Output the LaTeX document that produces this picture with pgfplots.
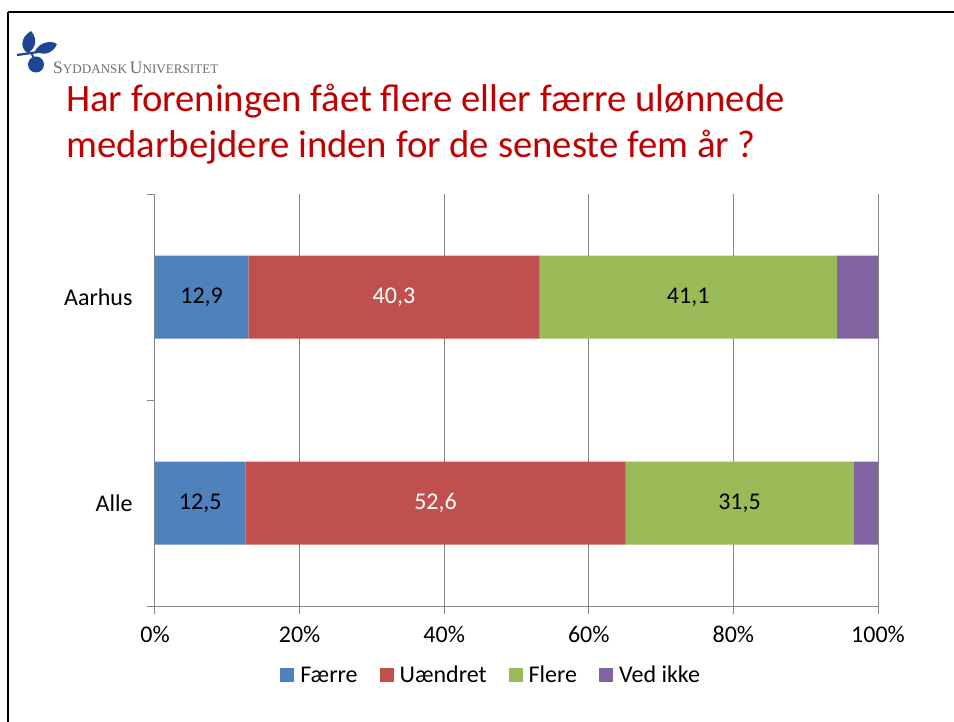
\documentclass[border=0pt]{standalone}
\usepackage{fontspec}
\setmainfont{Carlito}
\newfontfamily\logofont{Liberation Serif}
\usepackage{pgfplots}
\pgfplotsset{compat=1.18}

\definecolor{faerre}{RGB}{79,129,189}
\definecolor{uaendret}{RGB}{192,80,77}
\definecolor{flere}{RGB}{155,187,89}
\definecolor{vedikke}{RGB}{128,100,162}
\definecolor{axisgray}{RGB}{134,134,134}
\definecolor{titlered}{RGB}{192,0,0}
\definecolor{logoblue}{RGB}{30,70,146}
\definecolor{logogray}{RGB}{110,110,110}

\pgfplotsset{
  chartbox/.style={at={(155pt,-606pt)}, anchor=south west,
    scale only axis, width=723pt, height=412pt,
    xmin=0, xmax=100, ymin=-0.5, ymax=1.5},
}

\begin{document}
\begin{tikzpicture}
\useasboundingbox (0pt,0pt) rectangle (954pt,-722pt);
\fill[white] (0pt,0pt) rectangle (954pt,-722pt);

\begin{scope}[x=1pt,y=-1pt]
  % slide frame (top and left edges only visible)
  \draw[line width=2pt] (8,12) -- (956,12);
  \draw[line width=2pt] (8,12) -- (8,724);
  % logo
  \fill[logoblue] (31,31) .. controls (19,38) and (21,50) .. (28,53) .. controls (36,48) and (38,39) .. (31,31);
  \fill[logoblue] (35,51) .. controls (40,42) and (51,40) .. (57,44) .. controls (53,54) and (43,56) .. (35,51);
  \draw[logoblue,line width=2.2pt] (17,55) -- (45,51);
  \draw[logoblue,line width=1.8pt] (31,53) -- (34,58);
  \fill[logoblue] (36,64.5) circle (8);
  \node[anchor=base west,inner sep=0pt,text=logogray] at (53,74)
    {\logofont{\fontsize{17.5}{18}\selectfont S}{\fontsize{13.1}{14}\selectfont YDDANSK}\hspace{3pt}{\fontsize{17.5}{18}\selectfont U}{\fontsize{13.1}{14}\selectfont NIVERSITET}};
  % title
  \node[anchor=base west,inner sep=0pt,text=titlered,font=\fontsize{38.7}{46}\selectfont] at (66,112)
    {Har foreningen fået flere eller færre ulønnede};
  \node[anchor=base west,inner sep=0pt,text=titlered,font=\fontsize{38.7}{46}\selectfont] at (66,158)
    {medarbejdere inden for de seneste fem år ?};
\end{scope}

\begin{axis}[
    chartbox,
    xbar stacked, bar width=83pt,
    axis lines*=left,
    axis line style={axisgray, line width=1pt},
    xmajorgrids, grid style={axisgray, line width=1pt},
    xtick={0,20,40,60,80,100},
    xticklabel={\pgfmathprintnumber{\tick}\%},
    ytick={-0.5,0.5,1.5}, yticklabels={},
    extra y ticks={0,1}, extra y tick labels={Alle,Aarhus},
    extra y tick style={major tick length=0pt, grid=none},
    tick align=outside, major tick length=8pt,
    tick style={axisgray, line width=1pt},
    ticklabel style={font=\fontsize{24}{28}\selectfont, text=black},
    /pgf/number format/assume math mode=true,
    xticklabel style={yshift=-9pt},
    yticklabel style={xshift=-19pt},
    legend columns=-1,
    legend style={at={(0.465,-0.170)}, anchor=center, draw=none,
      font=\fontsize{24}{28}\selectfont,
      nodes={text height=17pt, text depth=5pt},
      /tikz/every odd column/.append style={column sep=4pt},
      /tikz/every even column/.append style={column sep=20pt}},
    legend image code/.code={\draw[#1,draw=none] (0pt,-6pt) rectangle (14pt,8pt);},
]
\addplot[fill=faerre, draw=none] coordinates {(12.5,0) (12.9,1)};
\addlegendentry{Færre}
\addplot[fill=uaendret, draw=none] coordinates {(52.6,0) (40.3,1)};
\addlegendentry{Uændret}
\addplot[fill=flere, draw=none] coordinates {(31.5,0) (41.1,1)};
\addlegendentry{Flere}
\addplot[fill=vedikke, draw=none] coordinates {(3.4,0) (5.7,1)};
\addlegendentry{Ved ikke}
\end{axis}

% value labels, centred in their segments
\begin{axis}[
    chartbox, hide axis,
    nodes near coords, point meta=explicit symbolic,
    nodes near coords align=center,
    every node near coord/.append style={font=\fontsize{24}{28}\selectfont, anchor=center},
]
\addplot[only marks, mark=none, black] table[meta=lab] {
x y lab
6.45 1 12,9
73.75 1 41,1
6.25 0 12,5
80.85 0 31,5
};
\addplot[only marks, mark=none, white] table[meta=lab] {
x y lab
33.05 1 40,3
38.8 0 52,6
};
\end{axis}
\end{tikzpicture}
\end{document}
